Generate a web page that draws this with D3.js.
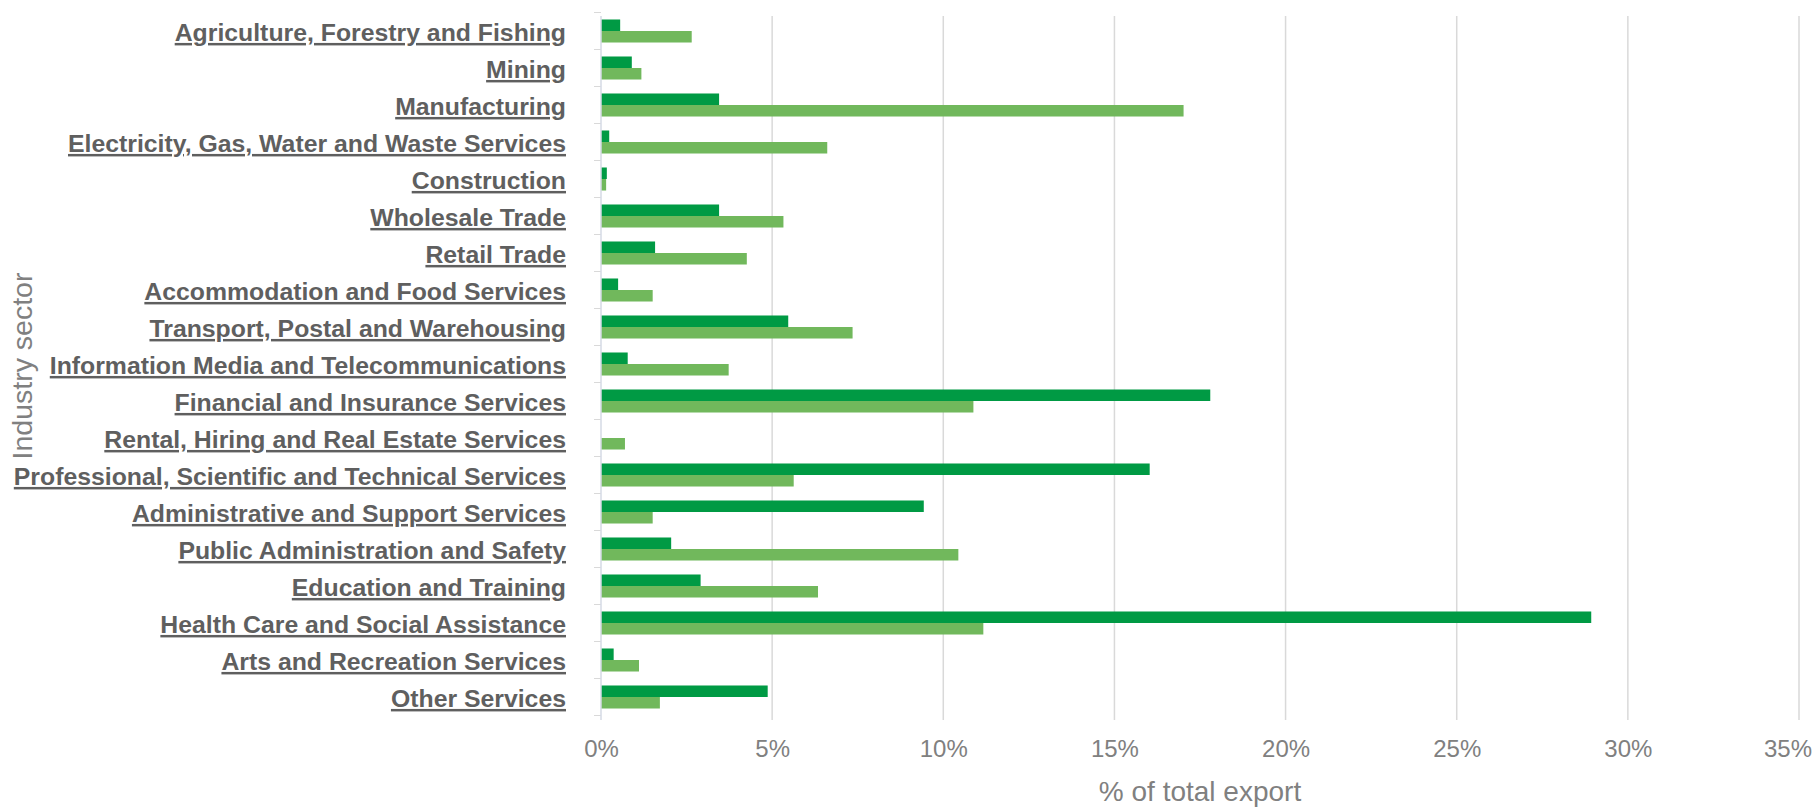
<!DOCTYPE html>
<html>
<head>
<meta charset="utf-8">
<script src="https://cdn.jsdelivr.net/npm/d3@7"></script>
<style>
  html, body { margin: 0; padding: 0; background: #ffffff; }
  svg { display: block; }
</style>
</head>
<body>
<svg id="chart" width="1816" height="808"></svg>
<script>
const categories = [
  "Agriculture, Forestry and Fishing",
  "Mining",
  "Manufacturing",
  "Electricity, Gas, Water and Waste Services",
  "Construction",
  "Wholesale Trade",
  "Retail Trade",
  "Accommodation and Food Services",
  "Transport, Postal and Warehousing",
  "Information Media and Telecommunications",
  "Financial and Insurance Services",
  "Rental, Hiring and Real Estate Services",
  "Professional, Scientific and Technical Services",
  "Administrative and Support Services",
  "Public Administration and Safety",
  "Education and Training",
  "Health Care and Social Assistance",
  "Arts and Recreation Services",
  "Other Services"
];
// share of total export (fraction), top bar of each pair
const series1Values = [0.0056, 0.0090, 0.0345, 0.0024, 0.0017, 0.0345, 0.0158, 0.0050, 0.0547, 0.0078,
  0.1780, 0.0000, 0.1603, 0.0943, 0.0205, 0.0291, 0.2893, 0.0037, 0.0487];
// share of total export (fraction), bottom bar of each pair
const series2Values = [0.0265, 0.0118, 0.1702, 0.0661, 0.0015, 0.0533, 0.0426, 0.0151, 0.0735, 0.0373,
  0.1088, 0.0070, 0.0563, 0.0151, 0.1044, 0.0634, 0.1117, 0.0111, 0.0172];
const seriesNames = ["series1", "series2"];
const xTicks = [0, 0.05, 0.10, 0.15, 0.20, 0.25, 0.30, 0.35];
const xTitle = "% of total export";
const yTitle = "Industry sector";

const svg = d3.select("#chart");
svg.append("rect").attr("width", 1816).attr("height", 808).attr("fill", "#ffffff");

const plotTop = 16, plotBottom = 720;
const x = d3.scaleLinear().domain([0, 0.35]).range([601, 1799]);
const y = d3.scaleBand().domain(categories).range([12.5, 715.5]).paddingInner(0.378).paddingOuter(0.189);
const ySub = d3.scaleBand().domain(seriesNames).range([0, y.bandwidth()]);
const colors = { series1: "#009a44", series2: "#71b85c" };

// gridlines
svg.append("g").selectAll("line").data(xTicks.slice(1)).join("line")
  .attr("x1", d => x(d)).attr("x2", d => x(d))
  .attr("y1", plotTop).attr("y2", plotBottom)
  .attr("stroke", "#d9d9d9").attr("stroke-width", 1.5);

// small category tick marks
const bounds = d3.range(categories.length + 1).map(i => y.range()[0] + i * y.step());
svg.append("g").selectAll("line").data(bounds).join("line")
  .attr("x1", x(0) - 7).attr("x2", x(0))
  .attr("y1", d => d).attr("y2", d => d)
  .attr("stroke", "#d9d9d9").attr("stroke-width", 1);

// bars
const rows = categories.map((c, i) => ({ c, vals: [
  { key: "series1", v: series1Values[i] },
  { key: "series2", v: series2Values[i] }
]}));
const g = svg.append("g").selectAll("g").data(rows).join("g")
  .attr("transform", d => `translate(0,${y(d.c)})`);
g.selectAll("rect").data(d => d.vals).join("rect")
  .attr("x", x(0))
  .attr("y", d => ySub(d.key))
  .attr("width", d => x(d.v) - x(0))
  .attr("height", ySub.bandwidth())
  .attr("fill", d => colors[d.key]);

// zero axis line
svg.append("line").attr("x1", x(0)).attr("x2", x(0)).attr("y1", plotTop).attr("y2", plotBottom)
  .attr("stroke", "#d5dae4").attr("stroke-width", 1.5);

// x axis labels
const xAxis = d3.axisBottom(x).tickValues(xTicks).tickFormat(d3.format(".0%")).tickSize(0).tickPadding(0);
const xa = svg.append("g").attr("transform", `translate(0,${plotBottom + 20})`).call(xAxis);
xa.select(".domain").remove();
xa.selectAll("text")
  .attr("font-family", "'Liberation Sans', Arial, sans-serif")
  .attr("font-size", 24).attr("fill", "#808080").attr("dy", "0.71em");
// keep last label inside canvas
xa.selectAll(".tick").each(function () {
  const t = d3.select(this).select("text");
  const w = t.node().getComputedTextLength();
  const tr = this.transform.baseVal.consolidate().matrix.e;
  if (tr + w / 2 > 1812) t.attr("x", 1812 - w / 2 - tr);
});

svg.append("text").text(xTitle)
  .attr("x", (x.range()[0] + x.range()[1]) / 2).attr("y", 801)
  .attr("text-anchor", "middle")
  .attr("font-family", "'Liberation Sans', Arial, sans-serif")
  .attr("font-size", 28).attr("fill", "#808080");

// y axis category labels
const yAxis = d3.axisLeft(y).tickSize(0).tickPadding(0);
const ya = svg.append("g").attr("transform", `translate(566,2)`).call(yAxis);
ya.select(".domain").remove();
ya.selectAll("text")
  .attr("font-family", "'Liberation Sans', Arial, sans-serif")
  .attr("font-size", 24.8).attr("font-weight", "bold")
  .attr("fill", "#5f5f5f")
  .attr("text-decoration", "underline");

svg.append("text").text(yTitle)
  .attr("transform", "translate(32,366) rotate(-90)")
  .attr("text-anchor", "middle")
  .attr("font-family", "'Liberation Sans', Arial, sans-serif")
  .attr("font-size", 28.5).attr("fill", "#808080");
</script>
</body>
</html>
